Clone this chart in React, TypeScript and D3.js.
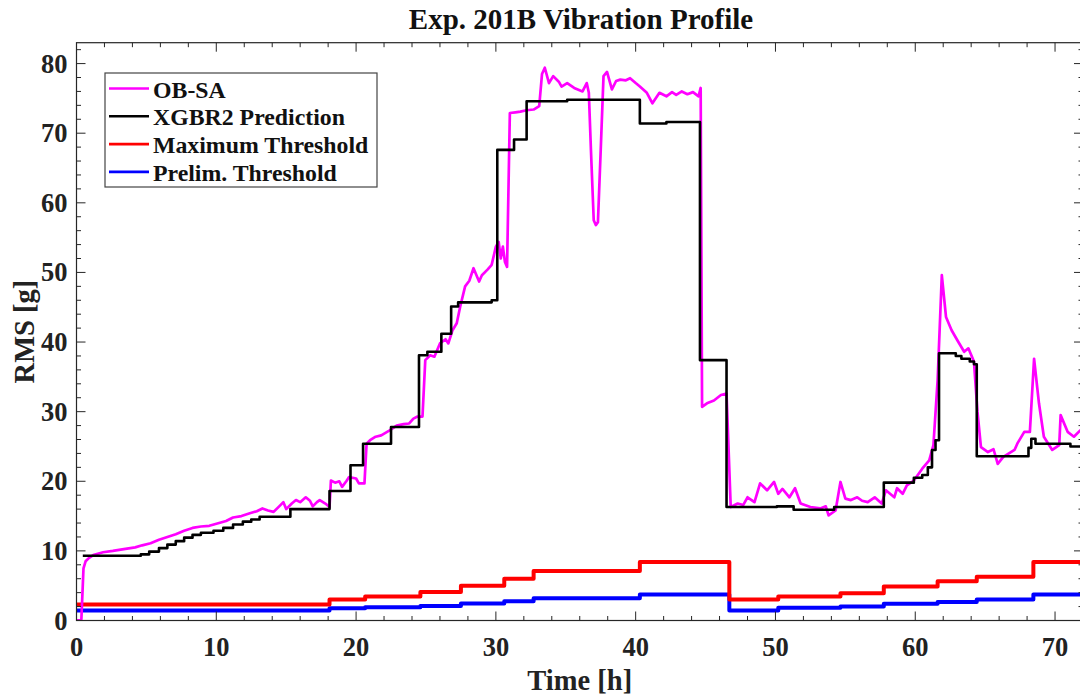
import React from "react";
import * as d3 from "d3";

const TITLE = "Exp. 201B Vibration Profile";
const X_LABEL = "Time [h]";
const Y_LABEL = "RMS [g]";
const X_TICKS = [0, 10, 20, 30, 40, 50, 60, 70];
const Y_TICKS = [0, 10, 20, 30, 40, 50, 60, 70, 80];
const SERIES_NAMES = ["OB-SA", "XGBR2 Prediction", "Maximum Threshold", "Prelim. Threshold"];
const SERIES_COLORS = ["#ff00ff", "#000000", "#ff0000", "#0000ff"];

// OB-SA measured RMS (time h, value g)
const OBSA_T = [0, 0.35, 0.5, 0.65, 0.9, 1.2, 1.9, 2.6, 3.5, 4.2, 4.7, 5.3, 5.9, 6.5, 7.1, 7.7, 8.3, 8.9, 9.5, 10.2, 10.7, 11.2, 11.8, 12.4, 12.9, 13.3, 13.7, 14.1, 14.5, 14.8, 15.0, 15.4, 15.7, 16.0, 16.4, 16.7, 16.9, 17.2, 17.4, 17.8, 18.1, 18.2, 18.5, 18.8, 19.0, 19.3, 19.5, 20.0, 20.2, 20.6, 20.75, 21.0, 21.4, 21.8, 22.4, 22.9, 23.4, 23.8, 24.1, 24.4, 24.75, 24.95, 25.3, 25.6, 26.0, 26.4, 26.6, 26.9, 27.2, 27.45, 27.8, 28.1, 28.4, 28.8, 29.0, 29.4, 29.7, 30.0, 30.2, 30.35, 30.5, 30.65, 30.8, 31.0, 31.4, 31.75, 32.2, 32.7, 33.1, 33.3, 33.5, 33.8, 34.1, 34.5, 34.7, 35.1, 35.6, 36.2, 36.5, 36.65, 36.8, 37.0, 37.15, 37.3, 37.5, 37.7, 37.95, 38.3, 38.6, 38.9, 39.3, 39.6, 40.0, 40.3, 40.8, 41.2, 41.7, 42.2, 42.6, 42.9, 43.3, 43.7, 44.1, 44.5, 44.65, 44.75, 45.1, 45.6, 46.1, 46.5, 46.8, 47.3, 47.7, 48.0, 48.5, 48.9, 49.4, 49.9, 50.2, 50.5, 51.0, 51.4, 51.8, 52.5, 53.2, 53.6, 53.8, 54.3, 54.65, 55.0, 55.4, 55.85, 56.2, 56.6, 57.1, 57.6, 57.9, 58.5, 58.7, 59.1, 59.4, 59.9, 60.5, 61.0, 61.3, 61.6, 61.9, 62.2, 62.6, 63.0, 63.5, 63.8, 64.2, 64.45, 64.7, 65.2, 65.6, 65.9, 66.3, 67.1, 67.3, 67.8, 68.2, 68.5, 68.85, 69.2, 69.8, 70.3, 70.4, 70.9, 71.35, 71.8, 72];
const OBSA_V = [0, 0.2, 7.5, 8.5, 9.0, 9.4, 9.8, 10.0, 10.3, 10.5, 10.8, 11.1, 11.6, 12.0, 12.4, 12.9, 13.3, 13.5, 13.6, 14.0, 14.3, 14.8, 15.0, 15.4, 15.7, 16.1, 15.8, 15.6, 16.4, 17.0, 16.0, 16.8, 17.3, 17.0, 17.7, 17.2, 16.4, 17.0, 17.3, 16.8, 16.3, 20.1, 19.8, 20.0, 19.2, 20.0, 20.6, 20.4, 19.7, 19.7, 25.4, 25.9, 26.4, 26.6, 27.3, 28.0, 28.2, 28.3, 29.0, 29.3, 29.3, 37.4, 38.1, 37.9, 39.8, 40.4, 39.8, 41.7, 42.7, 45.1, 48.0, 48.8, 50.6, 48.7, 49.6, 50.4, 51.1, 53.7, 54.4, 52.0, 53.7, 51.5, 50.8, 72.9, 73.0, 73.1, 73.3, 73.4, 73.9, 78.5, 79.4, 77.2, 78.2, 77.4, 76.7, 77.2, 76.5, 76.0, 77.2, 75.8, 67.6, 57.5, 56.8, 57.2, 67.6, 78.2, 78.8, 76.3, 77.5, 77.7, 77.6, 77.9, 77.2, 76.7, 75.8, 74.3, 75.8, 75.3, 75.9, 75.5, 76.0, 75.6, 75.9, 75.3, 76.5, 30.7, 31.2, 31.6, 32.4, 32.6, 16.3, 16.8, 16.6, 17.7, 17.0, 19.7, 18.7, 19.9, 18.2, 18.9, 17.7, 19.0, 16.8, 16.3, 16.1, 16.4, 15.1, 15.8, 19.9, 17.5, 17.3, 17.7, 17.2, 17.0, 17.7, 16.8, 18.7, 17.7, 19.0, 18.2, 19.4, 20.1, 21.8, 23.0, 25.2, 34.5, 49.6, 43.6, 41.7, 40.3, 38.6, 39.1, 37.2, 30.0, 24.9, 24.2, 24.6, 22.5, 23.5, 24.5, 25.4, 27.1, 27.1, 37.6, 31.2, 26.4, 24.5, 25.2, 29.5, 27.1, 26.4, 27.3, 27.5];

// XGBR2 prediction (step starts)
const PRED_T = [0.45, 4.6, 5.2, 5.9, 6.5, 7.1, 7.7, 8.3, 8.9, 9.8, 10.5, 11.2, 11.9, 12.5, 13.1, 15.3, 18.1, 19.6, 20.5, 22.5, 24.5, 25.1, 26.1, 26.8, 27.3, 29.7, 30.1, 31.3, 32.2, 35.1, 40.3, 42.2, 44.6, 46.5, 50.1, 51.3, 54.2, 57.75, 59.9, 60.5, 60.9, 61.2, 61.45, 61.7, 62.9, 63.3, 63.9, 64.2, 64.4, 68.1, 68.3, 68.6, 71.1, 72];
const PRED_V = [9.3, 9.5, 9.9, 10.4, 10.9, 11.4, 11.9, 12.3, 12.6, 12.9, 13.3, 13.8, 14.2, 14.5, 14.9, 16.0, 18.6, 22.3, 25.4, 27.8, 38.1, 38.6, 41.2, 45.1, 45.7, 46.0, 67.6, 69.1, 74.6, 74.8, 71.4, 71.6, 37.4, 16.3, 16.4, 15.9, 16.3, 19.8, 20.5, 20.9, 22.0, 24.5, 25.9, 38.4, 38.0, 37.6, 37.2, 36.8, 23.6, 24.8, 26.1, 25.4, 25.0, 25.0];

// thresholds (step starts)
const THR_T = [0, 18.1, 20.65, 24.6, 27.5, 30.6, 32.7, 40.3, 46.7, 50.2, 54.65, 57.75, 61.6, 64.4, 68.45, 72];
const MAX_V = [2.3, 3.0, 3.45, 4.1, 5.0, 6.0, 7.1, 8.4, 3.0, 3.45, 3.9, 4.9, 5.65, 6.3, 8.4, 8.4];
const PRE_V = [1.44, 1.77, 1.9, 2.1, 2.45, 2.75, 3.2, 3.75, 1.44, 1.83, 2.0, 2.4, 2.64, 3.0, 3.75, 3.75];

const W = 1080;
const H = 698;
const L = 76.5;
const R = 1083;
const T = 42.7;
const B = 620.5;
const AX = "#262626";
const FONT = "'Liberation Serif', 'Times New Roman', serif";

export default function App() {
  const x = d3.scaleLinear().domain([0, 72]).range([L, R]);
  const y = d3.scaleLinear().domain([0, 83]).range([B, T]);

  const mkLine = (ts: number[], vs: number[], curve: any) =>
    d3
      .line<number>()
      .x((_, i) => x(ts[i]))
      .y((v) => y(v))
      .curve(curve)(vs) || "";

  const obsa = mkLine(OBSA_T, OBSA_V, d3.curveLinear);
  const pred = mkLine(PRED_T, PRED_V, d3.curveStepAfter);
  const maxT = mkLine(THR_T, MAX_V, d3.curveStepAfter);
  const preT = mkLine(THR_T, PRE_V, d3.curveStepAfter);

  const xMinor = d3.range(0, 73, 2).filter((v) => v % 10 !== 0);
  const yMinor = d3.range(0, 84, 2).filter((v) => v % 10 !== 0);

  const legendRows = [0, 1, 2, 3];

  return (
    <div>
      <style>{`body{margin:0}`}</style>
      <svg width={W} height={H} style={{ display: "block", background: "#fff" }}>
        <defs>
          <clipPath id="plotclip">
            <rect x={L} y={T} width={R - L} height={B - T} />
          </clipPath>
        </defs>
        <text x={581} y={29} textAnchor="middle" fontFamily={FONT} fontWeight="bold" fontSize={29} fill="#111">
          {TITLE}
        </text>

        <g clipPath="url(#plotclip)" fill="none" strokeLinejoin="round">
          <path d={preT} stroke={SERIES_COLORS[3]} strokeWidth={4} />
          <path d={maxT} stroke={SERIES_COLORS[2]} strokeWidth={4} />
          <path d={obsa} stroke={SERIES_COLORS[0]} strokeWidth={2.7} />
          <path d={pred} stroke={SERIES_COLORS[1]} strokeWidth={2.6} />
        </g>

        {/* axes box */}
        <rect x={L} y={T} width={R - L} height={B - T} fill="none" stroke={AX} strokeWidth={1.2} />

        {/* x ticks */}
        {X_TICKS.map((v) => (
          <g key={"xt" + v}>
            <line x1={x(v)} x2={x(v)} y1={B} y2={B - 9} stroke={AX} />
            <line x1={x(v)} x2={x(v)} y1={T} y2={T + 9} stroke={AX} />
            <text x={x(v)} y={656} textAnchor="middle" fontFamily={FONT} fontWeight="bold" fontSize={26.5} fill="#222">
              {v}
            </text>
          </g>
        ))}
        {xMinor.map((v) => (
          <g key={"xm" + v}>
            <line x1={x(v)} x2={x(v)} y1={B} y2={B - 4.5} stroke={AX} />
            <line x1={x(v)} x2={x(v)} y1={T} y2={T + 4.5} stroke={AX} />
          </g>
        ))}

        {/* y ticks */}
        {Y_TICKS.map((v) => (
          <g key={"yt" + v}>
            <line x1={L} x2={L + 9} y1={y(v)} y2={y(v)} stroke={AX} />
            <line x1={R} x2={R - 9} y1={y(v)} y2={y(v)} stroke={AX} />
            <text x={L - 9} y={y(v) + 9} textAnchor="end" fontFamily={FONT} fontWeight="bold" fontSize={26.5} fill="#222">
              {v}
            </text>
          </g>
        ))}
        {yMinor.map((v) => (
          <g key={"ym" + v}>
            <line x1={L} x2={L + 4.5} y1={y(v)} y2={y(v)} stroke={AX} />
            <line x1={R} x2={R - 4.5} y1={y(v)} y2={y(v)} stroke={AX} />
          </g>
        ))}

        <text x={(L + R) / 2} y={690} textAnchor="middle" fontFamily={FONT} fontWeight="bold" fontSize={28.5} fill="#222">
          {X_LABEL}
        </text>
        <text
          transform={`translate(34, ${(T + B) / 2}) rotate(-90)`}
          textAnchor="middle"
          fontFamily={FONT}
          fontWeight="bold"
          fontSize={28.5}
          fill="#222"
        >
          {Y_LABEL}
        </text>

        {/* legend */}
        <rect x={105} y={73} width={272} height={114} fill="#fff" stroke="#444" strokeWidth={1.2} />
        {legendRows.map((i) => (
          <g key={"lg" + i}>
            <line x1={109} x2={149} y1={88.5 + i * 27.8} y2={88.5 + i * 27.8} stroke={SERIES_COLORS[i]} strokeWidth={2.6} />
            <text x={153} y={97.5 + i * 27.8} fontFamily={FONT} fontWeight="bold" fontSize={23.8} fill="#111">
              {SERIES_NAMES[i]}
            </text>
          </g>
        ))}
      </svg>
    </div>
  );
}
